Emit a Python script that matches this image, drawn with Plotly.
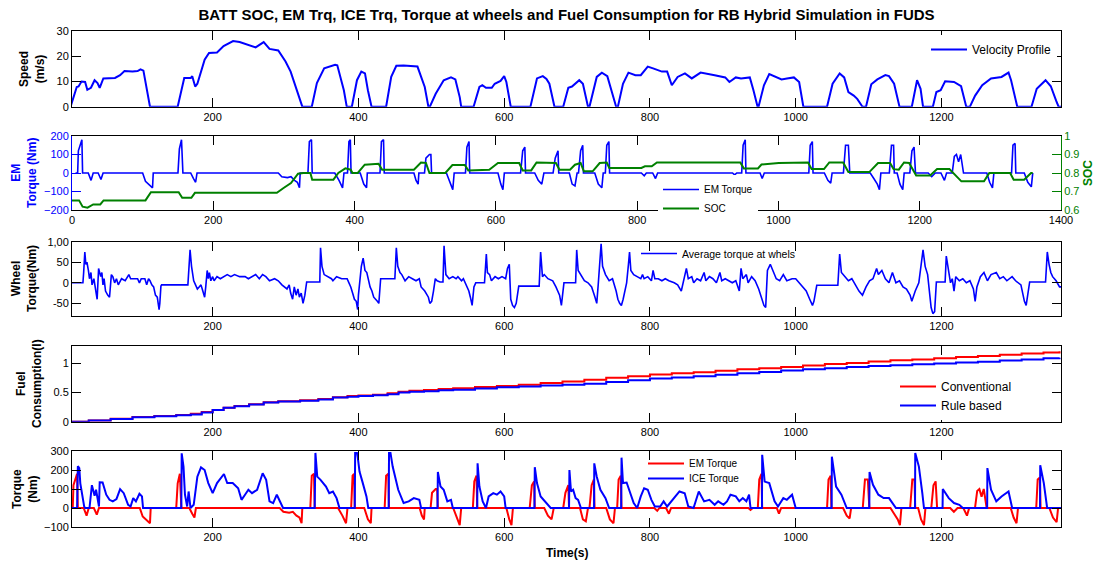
import plotly.graph_objects as go

FONT = "Liberation Sans, Arial, sans-serif"
BLUE = "#0000FF"
GREEN = "#008000"
RED = "#FF0000"

# ---------------- Speed profile (m/s) ----------------
speed_t = [5, 13.5, 16, 20, 25, 28, 33, 38, 42, 45, 50, 66, 73, 79, 90, 97, 101, 105, 114,
           152, 161, 170, 172, 176, 179, 189, 195, 206, 215, 228, 237, 247, 259, 270, 278, 290,
           300, 307, 314, 321, 323, 336, 343, 353, 368, 371, 380, 384, 391, 398, 404, 409, 413,
           418, 438, 445, 452, 462, 481, 491, 496, 498, 506, 517, 527, 533, 539, 541, 558, 566,
           570, 575, 583, 587, 595, 600, 603, 609, 636, 645, 653, 658, 662, 669, 681, 688, 693,
           703, 708, 715, 717, 727, 734, 741.5, 753.6, 756, 763, 770.5, 780, 787.4, 797, 804.3,
           816.4, 823.6, 830, 838, 848, 857.4, 869.5, 888.8, 903.3, 909, 917.8, 925, 937, 942,
           947.7, 949, 956.4, 963.7, 973.3, 980.6, 988, 997.5, 1004.7, 1010.5, 1043, 1050.6,
           1060.3, 1066.5, 1072.3, 1079.6, 1084.4, 1091.6, 1096.5, 1103.7, 1112, 1123, 1128,
           1135, 1142.4, 1159.3, 1166.5, 1171.3, 1174.7, 1188.2, 1193, 1198.9, 1205, 1217.2,
           1226.9, 1234, 1239, 1246.2, 1255.9, 1268, 1282.4, 1292, 1295.5, 1304, 1323.5,
           1330.7, 1342.8, 1350, 1357.3, 1360.7, 1364]
speed_v = [0, 7.8, 8, 10, 9.8, 6.7, 7.5, 10.5, 9.4, 7.5, 11.2, 11.4, 12.5, 14.1, 13.9, 14.1, 14.8,
           14.3, 0, 0, 11.4, 11.4, 12.1, 8, 9.1, 18.6, 21.3, 21.5, 24, 26, 25.6, 24.6, 23.5, 25.6,
           22.9, 22.3, 17.9, 13.9, 7.8, 2.4, 0, 0, 9.4, 15.2, 16.6, 16.4, 6.5, 0, 0, 10.5, 13.9,
           13.2, 6.5, 0, 0, 11.8, 16.2, 16.3, 15.9, 7.8, 0, 0, 5.1, 10.5, 11.6, 10.8, 3.8, 0, 0,
           7.8, 8.5, 7.5, 7.5, 9.1, 10.2, 12.1, 9.8, 0, 0, 11.2, 12.1, 11, 9.1, 0, 0, 7.5, 8,
           10.5, 9.1, 0, 0, 11.8, 13.5, 12.1, 0, 0, 9.1, 13.5, 12.5, 12.5, 15.9, 15.2, 13.9, 13.9,
           8.5, 11.8, 13.2, 11.2, 13.5, 12.5, 11.6, 9.8, 11.6, 11.2, 11.6, 6.5, 0, 0, 8.5, 12.9,
           11.6, 10.8, 11.2, 11.6, 9.8, 0, 0, 9.1, 13.2, 11.6, 5.8, 4.4, 3.1, 0, 0, 8.9, 10.8,
           12.5, 12.1, 9.1, 0, 0, 10.5, 7.1, 0, 0, 5.8, 6.5, 10.1, 9.8, 8.1, 0, 0, 4.4, 8.5, 11.2,
           11.8, 13.5, 10.5, 0, 0, 7.1, 10.5, 8.1, 2.4, 0, 0]

# ---------------- EM torque (Nm) ----------------
em_t = [5, 8, 9, 13, 14, 15, 23, 27, 30, 37, 41, 44, 100, 104, 110, 114, 115, 150, 152, 155, 157,
        168, 172, 175, 177, 292, 297, 305, 310, 315, 319, 322, 323, 334, 336, 339, 340, 372, 378,
        383, 385, 390, 392, 394, 395, 408, 413, 417, 418, 436, 438, 441, 442, 484, 487, 490, 491,
        499, 501, 506, 508, 509, 530, 535, 539, 541, 557, 559, 562, 563, 603, 607, 610, 612, 635,
        638, 641, 642, 655, 660, 665, 668, 681, 684, 688, 689, 704, 708, 712, 715, 717, 720, 723,
        724, 740, 745, 750, 752, 755, 757, 760, 761, 806, 810, 813, 822, 826, 829, 935, 938, 941,
        948, 950, 953, 954, 974, 977, 980, 1043, 1045, 1048, 1049, 1065, 1070, 1074, 1076, 1092,
        1095, 1099, 1101, 1130, 1135, 1140, 1143, 1145, 1157, 1160, 1163, 1164, 1168, 1172,
        1176, 1178, 1186, 1189, 1192, 1194, 1212, 1217, 1222, 1230, 1235, 1238, 1246, 1249,
        1252, 1255, 1258, 1262, 1295, 1299, 1303, 1305, 1330, 1332, 1335, 1336, 1348, 1353,
        1358, 1360]
em_v = [0, 0, 120, 170, 180, 0, 0, -40, 0, 0, -35, 0, 0, -45, -65, -80, 0, 0, 130, 180, 0,
        0, -30, -50, 0, 0, -20, -25, -20, -40, -50, -80, 0, 0, 170, 180, 0, 0, -40,
        -80, 0, 0, 170, 180, 0, 0, -60, -80, 0, 0, 170, 180, 0, 0, -40, -60, 0,
        0, 80, 100, 100, 0, 0, -50, -90, 0, 0, 140, 170, 0, 0, -60, -90, 0, 0,
        120, 140, 0, 0, -40, -60, 0, 0, 80, 120, 0, 0, -60, -70, 0, 0, 120, 150,
        0, 0, -60, -80, 0, 0, 150, 170, 0, 0, -15, 0, 0, -30, 0, 0, -10, 0,
        0, 150, 180, 0, 0, -30, 0, 0, 150, 170, 0, 0, -40, -55, 0, 0,
        150, 150, 0, 0, -30, -60, -90, 0, 0, 150, 150, 0, 0, -60,
        -90, 0, 0, 120, 140, 0, 0, -20, 0, 0, -40, 0, 0, 90,
        100, 60, 100, 0, 0, -50, -80, 0, 0, 150, 160, 0, 0, -50,
        -75, 0]

# ---------------- Battery SOC ----------------
soc_t = [0, 10, 15, 22, 30, 40, 44.7, 104, 111.7, 151, 156, 169, 174, 290, 300, 310, 320, 327.5,
         337.5, 340, 370, 377, 387, 394.5, 397, 404.5, 414.4, 434, 439, 484, 494, 501, 506, 528.5,
         538.5, 556, 561, 590.6, 603, 633, 638, 650, 657.6, 678, 685, 690, 705, 712, 720, 724.6,
         737, 747, 757, 760.6, 806, 811, 820.7, 828, 946, 951, 971, 976, 1000.5, 1042, 1047,
         1064.5, 1072, 1091.6, 1099, 1128.6, 1141, 1158, 1163, 1170.4, 1177.8, 1185, 1195,
         1214.8, 1224.6, 1242, 1259, 1291, 1298.5, 1328, 1333, 1347.8, 1357.6, 1360]
soc_v = [0.652, 0.652, 0.618, 0.6125, 0.63, 0.63, 0.652, 0.652, 0.696, 0.696, 0.666, 0.666, 0.693,
         0.693, 0.72, 0.746, 0.796, 0.8, 0.8, 0.764, 0.764, 0.8, 0.825, 0.818, 0.8, 0.8, 0.845,
         0.85, 0.818, 0.818, 0.857, 0.855, 0.8, 0.8, 0.843, 0.843, 0.814, 0.818, 0.854, 0.854,
         0.814, 0.814, 0.857, 0.857, 0.854, 0.818, 0.818, 0.845, 0.854, 0.809, 0.809, 0.854,
         0.857, 0.827, 0.827, 0.836, 0.836, 0.857, 0.857, 0.825, 0.825, 0.846, 0.854, 0.857,
         0.821, 0.821, 0.857, 0.857, 0.805, 0.805, 0.854, 0.854, 0.821, 0.818, 0.857, 0.854,
         0.786, 0.786, 0.821, 0.821, 0.755, 0.755, 0.8, 0.8, 0.764, 0.764, 0.8, 0.8]

# ---------------- Average torque at wheels ----------------
wheel_t = [5, 22, 23, 24.6, 26, 27.5, 29.5, 31, 33, 34.5, 37, 39, 41.5, 43.5, 46.4, 48, 49.5, 51,
           53, 56, 58.5, 61, 63, 65.5, 68, 70.5, 73, 75, 80, 85, 87.5, 92, 97, 99.5, 102, 107,
           109.5, 112, 114, 116.5, 119, 121.5, 124, 126.5, 127.5, 129, 130, 166, 167, 169, 171,
           172, 174, 176.5, 179, 181.5, 184, 186.5, 189, 190.5, 192.5, 194, 195.5, 197.5, 200,
           202, 206, 210.5, 215, 220, 225, 230, 237, 244.5, 249, 254, 259, 264, 268.5, 273, 278,
           285, 290, 295, 302, 305, 307, 309.7, 312, 314.5, 317, 319, 321.5, 324, 326.5, 329,
           347, 348, 350, 353, 358, 363, 365, 370, 377, 384.5, 387, 389.5, 392, 394.5, 397, 399,
           400, 404, 406.5, 409, 411.5, 413.5, 416, 418.5, 421, 426, 428, 430.5, 450, 452, 454,
           457, 459.5, 464, 469, 474, 479, 483.5, 486, 491, 496, 498, 500.5, 503, 505.5, 508,
           512, 516, 517.5, 520, 524.5, 529.5, 534, 536.5, 541.5, 544, 546.5, 549, 551.5, 553.6,
           556, 558.5, 561, 573, 575.5, 577, 580, 582.5, 587.5, 592, 597, 602, 604.5, 607, 609,
           611.5, 614, 616.5, 620, 648, 650, 652.5, 655, 660, 666.6, 671, 676, 678.5, 681, 682,
           698, 699.5, 701.5, 705.3, 710, 715, 720, 724.6, 727, 729, 733, 735, 739, 744, 748.6,
           753.6, 756, 758.4, 760.8, 763.2, 765.6, 768, 770.5, 772, 773.8, 777.7, 782.5, 787.4,
           789.8, 792, 797, 802, 804.3, 806.7, 811.5, 816.4, 821, 826, 833.3, 838, 843, 845.5,
           850, 852.6, 857.4, 860, 864.6, 869.5, 874.3, 876.7, 881.6, 886.4, 891.2, 896, 898.5,
           903.3, 908, 913, 917.8, 922.6, 925, 927.4, 932.3, 934.7, 939.5, 944.3, 949.2, 954,
           956.4, 958.8, 961.2, 965.1, 968.5, 973.3, 978, 983, 987.8, 995, 1000, 1004.7, 1009.5,
           1014.4, 1019.2, 1023, 1025, 1028.9, 1057.8, 1060.3, 1062.7, 1067.5, 1072.3, 1077,
           1082, 1086.8, 1091.6, 1096.5, 1101.3, 1106, 1111, 1113.4, 1118.2, 1123, 1128, 1132.7,
           1137.5, 1142.4, 1147.2, 1152, 1156.9, 1159.3, 1164, 1168.9, 1174.7, 1177.6, 1181,
           1183.5, 1185.8, 1188.2, 1190.6, 1193, 1205, 1206.6, 1210, 1212.4, 1214.8, 1217.2,
           1219.6, 1224.5, 1229.3, 1234.1, 1239, 1243.8, 1246.2, 1248.6, 1253.4, 1258.3, 1263,
           1268, 1275.2, 1280, 1284.9, 1289.7, 1296.9, 1301.7, 1309, 1313.8, 1316.2, 1318.6,
           1321, 1342.8, 1345.2, 1347.6, 1350, 1352.5, 1357.3, 1362, 1364]
wheel_v = [0, 0, 25, 75, 45, 50, 30, 10, 25, -5, 10, -10, -40, 35, 15, 25, -5, 10,
           -20, -30, -35, 20, 15, 0, 10, -5, 5, 10, 5, 20, 10, 10, 10, 0, 10, 10,
           -5, 10, 5, -5, -10, -30, -35, -65, -50, -8, -5, -5, 20, 80, 40,
           25, 5, -5, -15, -10, -5, -20, -35, -10, 30, 10, 25, 5, 15,
           5, 15, 10, 15, 20, 15, 20, 15, 15, 10, 15, 20, 10, 20, 15, 5,
           10, 5, -5, -15, -5, -25, -40, -10, -30, -15, -35, -25, -50, -30, 2,
           2, 85, 40, 20, 15, 10, 5, 15, 10, 10, 0, -10, -25, -40, -45, -65,
           -30, 40, 60, 30, 25, 10, -10, -20, -35, -45, -50, 10, 10, 85, 40,
           25, 20, 5, 15, 10, 5, 10, -10, -20, -35, -50, -45, -20, 10, 5,
           2, 2, 90, 20, 10, 15, 10, 15, 5, 10, 0, -10, -20, -35,
           -55, -10, 0, 0, 70, 25, 20, 5, 15, 10, 15, 10, 35, 45, -40,
           -55, -60, -50, -8, -8, 75, 15, 20, 10, 5, -10, -30, -55, -10, 0,
           0, 80, 30, 20, 5, 0, -10, -35, -50, -5, 95, 40, 20, 5, 10,
           -20, -40, -50, -55, -40, -20, 0, 45, 75, 30, 20, 15, 10,
           20, 10, 15, 5, 30, 10, 10, 5, 10, 5, 0, -5, -20, 0,
           35, 10, 15, 0, 10, 5, 25, 5, 15, 10, 0, 25, 5,
           10, 5, 0, 5, -20, 35, 10, 20, 0, 15, 5, -15, -40,
           -55, -60, 30, 45, 30, 10, 5, 20, 5, 10, 10, 0, -10,
           -20, -40, -55, -45, -6, -6, 70, 25, 15, 5, 10,
           -5, -20, -30, -10, 5, 10, 35, 20, 30, 10, 0, 25,
           0, 5, -10, -15, -30, -45, -20, 0, 80, 40, 20,
           -20, -60, -75, -70, 2, 2, 65, 20, 0, 10, -20,
           15, 5, 10, 0, 5, -15, -45, -10, 15, 25, 5,
           20, 25, 10, 15, 5, 15, 5, -5, -45, -55, -30,
           2, 2, 75, 45, 25, 15, 5, -10, -10]

# ---------------- Fuel consumption (l) ----------------
fuel_t = [5, 30, 60, 90, 120, 150, 170, 185, 200, 215, 230, 250, 270, 290, 320, 345, 365, 385, 400,
          420, 440, 455, 470, 490, 510, 530, 560, 590, 620, 650, 680, 710, 740, 770, 800, 830, 860,
          890, 920, 950, 980, 1010, 1040, 1070, 1100, 1130, 1160, 1190, 1220, 1250, 1280, 1310,
          1340, 1362]
fuel_conv = [0.0, 0.02, 0.05, 0.08, 0.1, 0.115, 0.135, 0.165, 0.2, 0.24, 0.27, 0.3, 0.335, 0.35,
             0.37, 0.39, 0.42, 0.44, 0.45, 0.465, 0.49, 0.515, 0.53, 0.545, 0.56, 0.575, 0.595,
             0.615, 0.635, 0.665, 0.69, 0.72, 0.755, 0.78, 0.81, 0.83, 0.85, 0.875, 0.9, 0.92,
             0.94, 0.965, 0.99, 1.01, 1.035, 1.055, 1.07, 1.09, 1.11, 1.13, 1.15, 1.17, 1.19, 1.21]
fuel_rb = [0.0, 0.02, 0.045, 0.075, 0.095, 0.11, 0.125, 0.16, 0.2, 0.24, 0.265, 0.295, 0.33, 0.345,
           0.36, 0.38, 0.415, 0.43, 0.44, 0.455, 0.47, 0.5, 0.515, 0.525, 0.54, 0.55, 0.57, 0.59,
           0.605, 0.62, 0.635, 0.65, 0.68, 0.71, 0.74, 0.76, 0.78, 0.805, 0.83, 0.855, 0.88, 0.9,
           0.92, 0.94, 0.955, 0.97, 0.985, 1.0, 1.015, 1.03, 1.05, 1.07, 1.09, 1.1]

# ---------------- ICE torque (Nm) ----------------
ice_t = [5, 14, 15, 17, 18.4, 21.3, 23.7, 25, 31, 34.3, 38, 40, 44, 45, 49, 54, 58.5, 63, 68, 73,
         78, 84, 87.4, 91, 94.7, 99.5, 103, 104.5, 157, 157.5, 160, 162, 165, 167, 169.6, 174,
         179, 184, 189, 194, 200, 206, 215.5, 220, 227.5, 235, 239.6, 244.4, 249, 254, 261,
         268.6, 273.4, 278, 283, 288, 292.8, 296.6, 340, 341, 343.5, 348, 355.5, 360, 365, 370,
         374, 395, 395.5, 398, 399, 401.5, 406, 411, 413.5, 441.5, 442, 444, 447, 454.6, 462,
         469, 476, 483.6, 486, 508.5, 509, 512.6, 517, 522, 527, 529.5, 563, 563.5, 566, 570.5,
         575, 578.7, 585, 590, 595, 600, 602, 641.5, 642, 645, 650, 657.5, 663.8, 689, 689.5,
         691.7, 694.6, 698, 701.4, 705.3, 723.3, 723.6, 727, 732, 739, 744, 760.5, 761, 763,
         768, 773, 777.7, 782.5, 787.4, 792, 797, 802, 806.7, 814, 818.8, 823.6, 830.8, 835.7,
         840.5, 847.7, 852.6, 859.8, 867, 874.3, 881.6, 888.8, 893.6, 900.9, 905.7, 910.5,
         917.8, 922.6, 927.4, 932.3, 936, 938, 953.7, 954, 957.4, 963.7, 971, 975.7, 983, 987.8,
         995, 1000, 1049.3, 1049.6, 1055.4, 1062.7, 1070, 1101, 1101.3, 1106, 1113.4, 1120.6,
         1128, 1137.5, 1163.7, 1164, 1169, 1173.7, 1176, 1201.5, 1201.8, 1210, 1217.2, 1224.5,
         1229.3, 1262.7, 1263, 1268, 1275.2, 1282.4, 1292, 1297, 1335.2, 1335.5, 1340.4, 1345,
         1364]
ice_v = [0, 0, 220, 210, 130, 60, 8, 0, 0, 120, 64, 96, 8, 135, 134, 70, 43, 35, 47, 99,
         78, 17, 8, 52, 35, 75, 61, 0, 0, 288, 218, 70, 8, 87, 0, 17,
         165, 214, 200, 131, 78, 131, 179, 131, 131, 104, 43, 70, 96, 78, 96,
         183, 148, 35, 26, 70, 35, 0, 0, 290, 165, 148, 113, 78, 87, 52,
         0, 0, 290, 290, 270, 192, 131, 61, 0, 0, 290, 290, 218, 96, 26,
         35, 52, 43, 0, 0, 190, 113, 96, 35, 43, 0, 0, 235, 113, 35,
         0, 61, 78, 70, 87, 61, 0, 0, 215, 131, 61, 26, 0, 0, 200,
         87, 96, 52, 43, 0, 0, 235, 165, 96, 52, 0, 0, 265, 131,
         134, 78, 26, 0, 61, 104, 96, 43, 8, 8, 35, 8, 43, 70,
         87, 78, 8, 0, 87, 35, 43, 17, 35, 17, 35, 70,
         61, 35, 52, 35, 70, 0, 0, 280, 139, 131, 35, 8, 52, 43,
         70, 0, 0, 270, 113, 70, 0, 0, 190, 122, 70, 52,
         52, 0, 0, 290, 218, 78, 0, 0, 100, 52, 26, 17,
         0, 0, 210, 96, 35, 61, 87, 0, 0, 225, 131, 0,
         0]

X_RANGE = [7, 1364]
X_TICKS = [200, 400, 600, 800, 1000, 1200]


def line(x, y, color, width, name, xa, ya, leg, shape="linear"):
    return go.Scatter(x=x, y=y, mode="lines", name=name, xaxis=xa, yaxis=ya, legend=leg,
                      showlegend=True, line=dict(color=color, width=width, shape=shape))


fig = go.Figure()
fig.add_trace(line(speed_t, speed_v, BLUE, 2, "Velocity Profile", "x", "y", "legend"))
fig.add_trace(line(em_t, em_v, BLUE, 1.6, "EM Torque", "x2", "y2", "legend2"))
fig.add_trace(line(soc_t, soc_v, GREEN, 2, "SOC", "x2", "y6", "legend2"))
fig.add_trace(line(wheel_t, wheel_v, BLUE, 1.6, "Average torque at whels", "x3", "y3", "legend3"))
fig.add_trace(line(fuel_t, fuel_conv, RED, 2, "Conventional", "x4", "y4", "legend4", "hv"))
fig.add_trace(line(fuel_t, fuel_rb, BLUE, 2, "Rule based", "x4", "y4", "legend4", "hv"))
fig.add_trace(line(em_t, em_v, RED, 2, "EM Torque", "x5", "y5", "legend5"))
fig.add_trace(line(ice_t, ice_v, BLUE, 2, "ICE Torque", "x5", "y5", "legend7"))

TICKFONT = dict(family=FONT, size=11, color="black")


def xax(anchor, rng, tickvals):
    return dict(domain=[0, 1], anchor=anchor, range=rng, tickvals=tickvals,
                showline=True, linecolor="black", linewidth=1, mirror="ticks",
                ticks="inside", ticklen=9, tickcolor="black", showgrid=False,
                zeroline=False, tickfont=TICKFONT)


def yax(anchor, dom, rng, tickvals, ticktext=None, color="black", mirror="ticks"):
    d = dict(domain=dom, anchor=anchor, range=rng, tickvals=tickvals,
             showline=True, linecolor=color, linewidth=1, mirror=mirror,
             ticks="inside", ticklen=9, tickcolor=color, showgrid=False,
             zeroline=False, tickfont=dict(family=FONT, size=11, color=color))
    if ticktext is not None:
        d["ticktext"] = ticktext
    return d


D1 = [0.8474, 1.0]
D2 = [0.6391, 0.7883]
D3 = [0.426, 0.5752]
D4 = [0.2123, 0.3649]
D5 = [0.0, 0.1532]

layout = dict(
    width=1097, height=563, autosize=False, showlegend=True,
    margin=dict(l=72, r=36, t=31, b=36),
    paper_bgcolor="white", plot_bgcolor="white",
    font=dict(family=FONT, size=11, color="black"),
    title=dict(text="<b>BATT SOC, EM Trq, ICE Trq, Torque at wheels and Fuel Consumption for RB Hybrid Simulation in FUDS</b>",
               x=0.5, xref="paper", xanchor="center", y=1 - 15 / 563, yref="container",
               yanchor="middle", font=dict(family=FONT, size=15, color="black")),
    xaxis=xax("y", X_RANGE, X_TICKS),
    xaxis2=xax("y2", [0, 1400], [0, 200, 400, 600, 800, 1000, 1200, 1400]),
    xaxis3=xax("y3", X_RANGE, X_TICKS),
    xaxis4=xax("y4", X_RANGE, X_TICKS),
    xaxis5=xax("y5", X_RANGE, X_TICKS),
    yaxis=yax("x", D1, [0, 30], [0, 10, 20, 30]),
    yaxis2=yax("x2", D2, [-200, 200], [-200, -100, 0, 100, 200], color=BLUE, mirror=False),
    yaxis3=yax("x3", D3, [-80, 100], [-50, 0, 50, 100], ["-50", "0", "50", "1,00"]),
    yaxis4=yax("x4", D4, [0, 1.3], [0, 0.5, 1], ["0", "0.5", "1"]),
    yaxis5=yax("x5", D5, [-100, 300], [-100, 0, 100, 200, 300]),
    yaxis6=dict(overlaying="y2", side="right", anchor="x2", range=[0.6, 1],
                tickvals=[0.6, 0.7, 0.8, 0.9, 1], ticktext=["0.6", "0.7", "0.8", "0.9", "1"],
                showline=True, linecolor=GREEN, linewidth=1, ticks="inside", ticklen=9,
                tickcolor=GREEN, showgrid=False, zeroline=False,
                tickfont=dict(family=FONT, size=11, color=GREEN)),
)


def leg(x, y, size, bg="white"):
    return dict(x=x, y=y, xanchor="left", yanchor="top", bgcolor=bg, borderwidth=0,
                font=dict(family=FONT, size=size, color="black"), tracegroupgap=0,
                itemwidth=36)


def px_x(p):
    return (p - 72) / 989.0


def px_y(p):
    return (527 - p) / 496.0


CLEAR = "rgba(255,255,255,0)"
layout["legend"] = leg(px_x(926), px_y(35), 12)
layout["legend2"] = leg(px_x(658), px_y(175), 10)
layout["legend3"] = leg(px_x(636), px_y(239), 10.5, CLEAR)
layout["legend4"] = leg(px_x(895), px_y(372), 12)
layout["legend5"] = leg(px_x(643), px_y(449), 10, CLEAR)
layout["legend7"] = leg(px_x(643), px_y(464), 10, CLEAR)

ytitles = [
    ("<b>Speed</b><br><b>(m/s)</b>", 32, 69, "black"),
    ("<b>EM</b><br><b>Torque (Nm)</b>", 24, 173, BLUE),
    ("<b>Wheel</b><br><b>Torque(Nm)</b>", 24, 279, "black"),
    ("<b>Fuel</b><br><b>Consumption(l)</b>", 29, 384, "black"),
    ("<b>Torque</b><br><b>(Nm)</b>", 25, 489, "black"),
    ("<b>SOC</b>", 1088, 173, GREEN),
]
annotations = []
for txt, xp, yp, col in ytitles:
    annotations.append(dict(text=txt, x=px_x(xp), y=px_y(yp), xref="paper", yref="paper",
                            xanchor="center", yanchor="middle", textangle=-90,
                            showarrow=False, font=dict(family=FONT, size=12, color=col)))
annotations.append(dict(text="<b>Time(s)</b>", x=0.5, y=px_y(553), xref="paper", yref="paper",
                        xanchor="center", yanchor="middle", showarrow=False,
                        font=dict(family=FONT, size=12, color="black")))
layout["annotations"] = annotations

fig.update_layout(**layout)
fig.write_html("out.html")
